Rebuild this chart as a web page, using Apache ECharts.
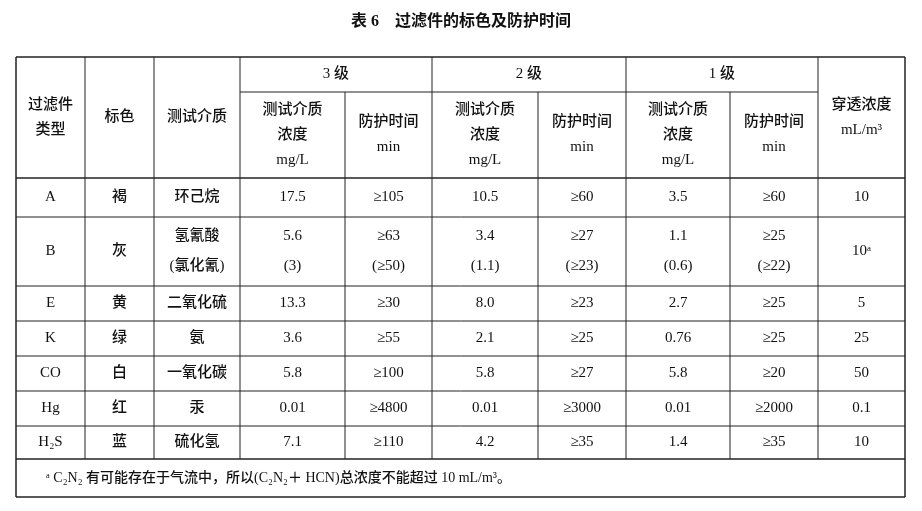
<!DOCTYPE html>
<html><head><meta charset="utf-8">
<script src="https://cdn.jsdelivr.net/npm/echarts@6/dist/echarts.min.js"></script>
<style>html,body{margin:0;padding:0;background:#fff}#c{width:922px;height:511px}</style>
</head><body><div id="c"></div>
<script>
const title = "表 6　过滤件的标色及防护时间";
const types = ["A","B","E","K","CO","Hg","H₂S"];
const colors = ["褐","灰","黄","绿","白","红","蓝"];
const media = ["环己烷","氢氰酸\n(氯化氰)","二氧化硫","氨","一氧化碳","汞","硫化氢"];
const c3 = ["17.5","5.6\n(3)","13.3","3.6","5.8","0.01","7.1"];
const t3 = ["≥105","≥63\n(≥50)","≥30","≥55","≥100","≥4800","≥110"];
const c2 = ["10.5","3.4\n(1.1)","8.0","2.1","5.8","0.01","4.2"];
const t2 = ["≥60","≥27\n(≥23)","≥23","≥25","≥27","≥3000","≥35"];
const c1 = ["3.5","1.1\n(0.6)","2.7","0.76","5.8","0.01","1.4"];
const t1 = ["≥60","≥25\n(≥22)","≥25","≥25","≥20","≥2000","≥35"];
const pen = ["10","10ᵃ","5","25","50","0.1","10"];
const groupLabels = ["3 级","2 级","1 级"];
const subHeads = ["测试介质\n浓度\nmg/L","防护时间\nmin"];
const headLeft = ["过滤件\n类型","标色","测试介质"];
const headRight = "穿透浓度\nmL/m³";
const footnote = "ᵃ C₂N₂ 有可能存在于气流中，所以(C₂N₂＋ HCN)总浓度不能超过 10 mL/m³。";

const X = [16,85,154,240,345,432,538,626,730,818,905];
const Y = [57,92,178,217,286,321,356,391,426,459,497];
const F = '"Liberation Serif","Noto Sans CJK SC",serif';
const g = [];
function txt(x,y,s,opt){g.push({type:'text',x:x,y:y,style:Object.assign({text:s,fill:'#111',font:'500 15px '+F,align:'center',verticalAlign:'middle',lineHeight:25},opt||{})});}
function ln(x1,y1,x2,y2,w){g.push({type:'line',shape:{x1,y1,x2,y2},style:{stroke:'#222',lineWidth:w||1}});}
txt(461,22,title,{font:'bold 16px '+F});
ln(X[0],Y[0],X[10],Y[0],1.5); ln(X[0],Y[10],X[10],Y[10],1.5);
ln(X[0],Y[0],X[0],Y[10],1.5); ln(X[10],Y[0],X[10],Y[10],1.5);
ln(X[3],Y[1],X[9],Y[1]); ln(X[0],Y[2],X[10],Y[2],1.5);
for(let r=3;r<=8;r++) ln(X[0],Y[r],X[10],Y[r]);
ln(X[0],Y[9],X[10],Y[9],1.5);
for(let c=1;c<=9;c++){ ln(X[c], (c===4||c===6||c===8)?Y[1]:Y[0], X[c], Y[9]); }
headLeft.forEach((s,i)=>txt((X[i]+X[i+1])/2,(Y[0]+Y[2])/2,s));
txt((X[9]+X[10])/2,(Y[0]+Y[2])/2,headRight);
groupLabels.forEach((s,i)=>{const a=3+2*i;txt((X[a]+X[a+2])/2,(Y[0]+Y[1])/2,s);
  subHeads.forEach((h,j)=>txt((X[a+j]+X[a+j+1])/2,(Y[1]+Y[2])/2,h));});
const cols=[types,colors,media,c3,t3,c2,t2,c1,t1,pen];
for(let r=0;r<types.length;r++){
  cols.forEach((arr,c)=>txt((X[c]+X[c+1])/2,(Y[r+2]+Y[r+3])/2,arr[r],{lineHeight:30}));
}
txt(X[0]+30,(Y[9]+Y[10])/2,footnote,{align:'left',font:'500 14px '+F});
const chart = echarts.init(document.getElementById('c'));
chart.setOption({animation:false,graphic:g});
</script></body></html>
